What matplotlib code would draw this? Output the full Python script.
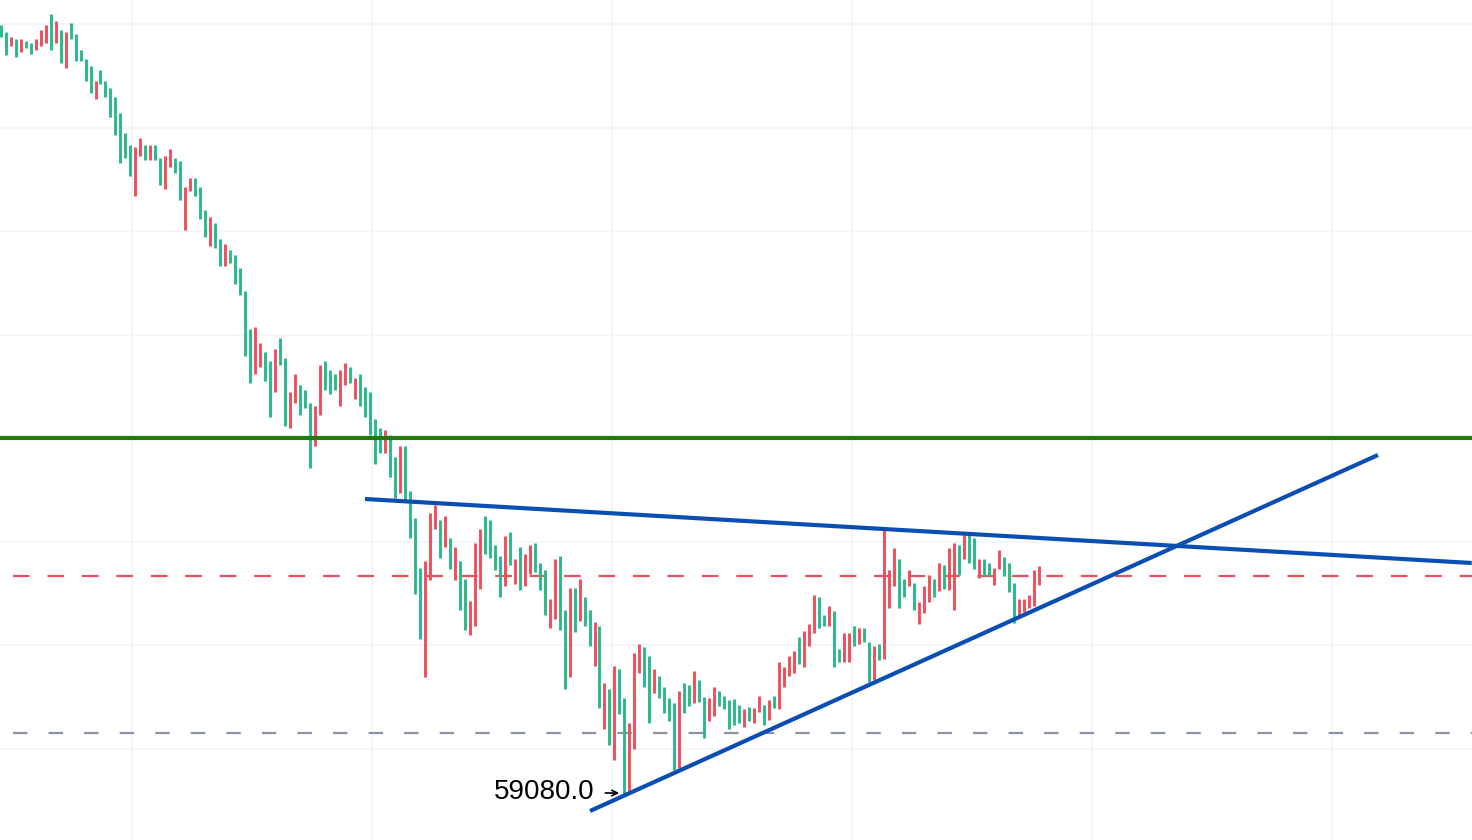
import numpy as np
import matplotlib
matplotlib.use("Agg")
import matplotlib.pyplot as plt

# bar highs / lows (price) and direction
highs = [62930, 62895, 62870, 62860, 62860, 62850, 62840, 62860, 62905, 62930,
         62985, 62950, 62905, 62895, 62940, 62885, 62805, 62760, 62725, 62650,
         62705, 62650, 62615, 62570, 62490, 62390, 62330, 62320, 62365, 62330,
         62330, 62330, 62265, 62275, 62310, 62265, 62250, 62120, 62165, 62165,
         62120, 62005, 61970, 61940, 61860, 61835, 61805, 61780, 61715, 61600,
         61410, 61420, 61340, 61295, 61250, 61310, 61365, 61265, 61095, 61185,
         61130, 61105, 61040, 61025, 61230, 61250, 61205, 61185, 61205, 61240,
         61220, 61165, 61185, 61120, 61095, 60960, 60915, 60905, 60880, 60770,
         60825, 60825, 60600, 60465, 60215, 60250, 60490, 60530, 60455, 60475,
         60365, 60320, 60250, 60160, 60050, 60340, 60410, 60475, 60455, 60330,
         60275, 60375, 60395, 60260, 60320, 60285, 60330, 60340, 60240, 60205,
         60060, 60260, 60275, 60005, 60115, 60115, 60160, 60070, 60005, 59945,
         59925, 59640, 59610, 59725, 59710, 59565, 59440, 59790, 59835, 59820,
         59775, 59710, 59675, 59620, 59565, 59540, 59600, 59640, 59630, 59700,
         59655, 59570, 59565, 59620, 59600, 59575, 59555, 59560, 59530, 59510,
         59520, 59515, 59575, 59530, 59555, 59575, 59745, 59720, 59775, 59800,
         59870, 59900, 59935, 60080, 60070, 59980, 60025, 60000, 59810, 59890,
         59890, 59925, 59915, 59915, 59845, 59825, 59835, 60405, 60205, 60315,
         60260, 60160, 60205, 60140, 60045, 60125, 60180, 60160, 60240, 60230,
         60315, 60340, 60330, 60380, 60380, 60365, 60260, 60260, 60240, 60215,
         60305, 60270, 60240, 60140, 60060, 60060, 60080, 60205, 60225]
lows = [62870, 62780, 62825, 62770, 62795, 62815, 62785, 62805, 62825, 62840,
        62805, 62840, 62740, 62715, 62860, 62750, 62750, 62650, 62590, 62560,
        62635, 62570, 62470, 62380, 62240, 62265, 62175, 62075, 62275, 62255,
        62255, 62255, 62130, 62110, 62220, 62190, 62055, 61905, 62100, 62075,
        61960, 61870, 61825, 61815, 61725, 61725, 61740, 61635, 61580, 61275,
        61140, 61185, 61220, 61150, 60970, 61095, 61230, 60925, 60915, 61040,
        60980, 61015, 60715, 60825, 60980, 61105, 61085, 61105, 61025, 61130,
        61140, 61060, 61025, 60970, 60880, 60735, 60790, 60790, 60670, 60565,
        60590, 60555, 60365, 60085, 59860, 59670, 60155, 60410, 60265, 60320,
        60210, 60155, 60005, 59905, 59880, 59925, 60110, 60285, 60265, 60205,
        60070, 60125, 60230, 60135, 60105, 60125, 60185, 60195, 60105, 59980,
        59915, 59960, 59905, 59610, 59670, 59895, 59950, 59925, 59825, 59725,
        59515, 59410, 59330, 59255, 59485, 59080, 59095, 59310, 59690, 59620,
        59440, 59590, 59565, 59490, 59450, 59205, 59215, 59490, 59525, 59540,
        59545, 59365, 59450, 59475, 59525, 59510, 59410, 59430, 59440, 59420,
        59450, 59440, 59495, 59430, 59455, 59515, 59510, 59620, 59675, 59690,
        59735, 59720, 59825, 59890, 59915, 59925, 59925, 59720, 59745, 59745,
        59745, 59825, 59835, 59845, 59645, 59655, 59755, 59760, 60015, 60125,
        60015, 60070, 60125, 60005, 59935, 59990, 60045, 60070, 60100, 60110,
        60105, 60005, 60180, 60260, 60240, 60210, 60165, 60175, 60175, 60130,
        60210, 60175, 60095, 59940, 59980, 59995, 60015, 60025, 60130]
direction = ("GGRGRGGRRR" "GRGRGGGGGR" "GGGGGGGRRG" "RGGRRGGRRG" "GGRGGRGGGG"
             "GRRGGRGGRR" "GGGRRGGGRR" "GRGGGGGRGG" "RGGGGRRRGR" "GRGGRRRGGG"
             "GRGRGRRGGG" "RRGGRGRGGR" "GRGRGGRRRG" "GRGGGGRGGR" "GGRRGGGGGR"
             "GRRGRGRRRR" "GRRRGGRGGR" "RGRGGRGRRR" "GGRGRRRGRG" "RRGRGGRGGR"
             "RGGGRRRRR")

resistance = 60865.0      # green horizontal level
red_level = 60175.0       # red dashed level
grey_level = 59390.0      # grey dashed level
upper_trend = [(73.0, 60560.0), (294.8, 60240.0)]   # (bar, price)
lower_trend = [(118.1, 59000.0), (276.0, 60780.0)]
low_label = "59080.0"

up_col = '#28bb8a'
down_col = '#f04e5c'

fig = plt.figure(figsize=(14.72, 8.4), dpi=100)
ax = fig.add_axes([0, 0, 1, 1])

idx = np.arange(len(highs))
cols = [up_col if d == 'G' else down_col for d in direction]
ax.vlines(idx, lows, highs, colors=cols, lw=2.1, capstyle='butt', zorder=3)

ax.axhline(resistance, color='#23780f', lw=3.0, zorder=4)
ax.axhline(red_level, xmin=0.009, color='#f04e5a', lw=1.6, ls=(0, (7.5, 8)), zorder=2)
ax.axhline(grey_level, xmin=0.009, color='#8a93a5', lw=1.6, ls=(0, (6.5, 9.5)), zorder=2)

for pts in (upper_trend, lower_trend):
    xs, ys = zip(*pts)
    ax.plot(xs, ys, color='#0a4db3', lw=3.0, solid_capstyle='butt', zorder=5)

# label of the swing low
lo_i = int(np.argmin(lows))
ax.annotate('', xy=(lo_i - 0.5, lows[lo_i] + 10), xytext=(lo_i - 4.4, lows[lo_i] + 10),
            arrowprops=dict(arrowstyle='->', color='black', lw=1.2), zorder=6)
ax.text(lo_i - 6.0, lows[lo_i] + 15, low_label, ha='right', va='center',
        fontsize=20, family='Liberation Sans', color='black', zorder=6)

ax.set_xlim(-0.14, 294.85)
ax.set_ylim(58855, 63055)
ax.set_xticks(np.arange(26.3, 294, 48.1))
ax.set_yticks(np.arange(62935, 58855, -517.5))
ax.grid(True, color='#f1f3f7', lw=1.2)
ax.set_axisbelow(True)
ax.tick_params(left=False, bottom=False, labelleft=False, labelbottom=False)
for s in ax.spines.values():
    s.set_visible(False)

fig.savefig('out.png', dpi=100)
